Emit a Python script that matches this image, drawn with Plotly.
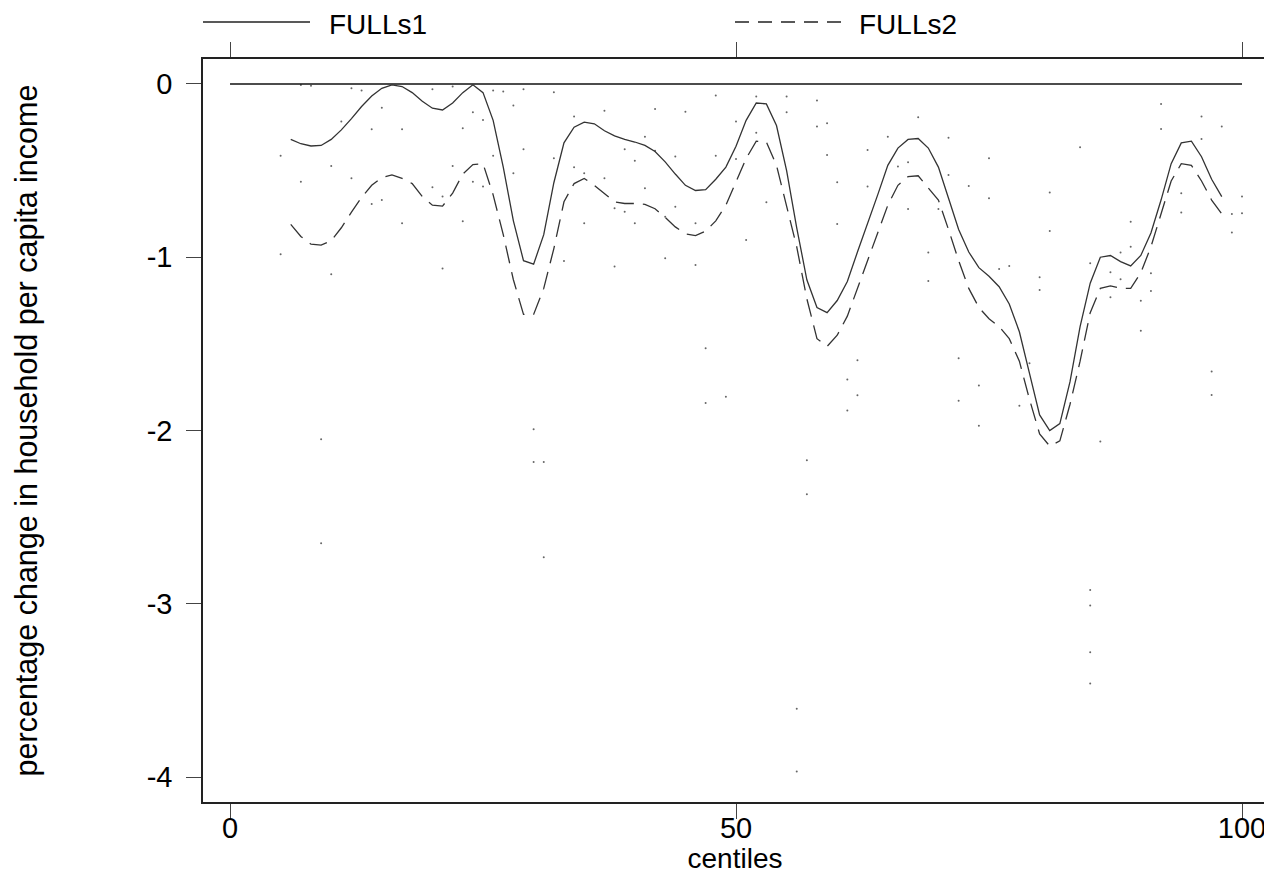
import plotly.graph_objects as go

centiles = list(range(6, 99))

fulls1 = [-0.32, -0.345, -0.358, -0.355, -0.32, -0.265, -0.20, -0.13, -0.07, -0.025,
          -0.005, -0.015, -0.05, -0.10, -0.14, -0.15, -0.11, -0.05, -0.005, -0.05,
          -0.21, -0.48, -0.79, -1.02, -1.04, -0.87, -0.57, -0.34, -0.25, -0.22,
          -0.23, -0.27, -0.30, -0.32, -0.335, -0.355, -0.39, -0.45, -0.52, -0.585,
          -0.615, -0.61, -0.55, -0.48, -0.36, -0.21, -0.11, -0.115, -0.24, -0.50,
          -0.83, -1.13, -1.29, -1.32, -1.25, -1.14, -0.97, -0.81, -0.64, -0.47,
          -0.37, -0.32, -0.315, -0.37, -0.48, -0.66, -0.84, -0.97, -1.06, -1.11,
          -1.17, -1.27, -1.43, -1.67, -1.91, -2.00, -1.96, -1.72, -1.40, -1.15,
          -1.00, -0.99, -1.025, -1.05, -0.99, -0.86, -0.67, -0.46, -0.34, -0.33,
          -0.42, -0.55, -0.65]

fulls2 = [-0.81, -0.88, -0.925, -0.93, -0.905, -0.83, -0.74, -0.655, -0.585, -0.54,
          -0.525, -0.545, -0.575, -0.65, -0.70, -0.705, -0.63, -0.52, -0.465, -0.46,
          -0.64, -0.87, -1.13, -1.33, -1.33, -1.18, -0.95, -0.68, -0.575, -0.545,
          -0.585, -0.635, -0.68, -0.69, -0.69, -0.695, -0.72, -0.77, -0.825, -0.865,
          -0.875, -0.85, -0.79, -0.70, -0.57, -0.43, -0.33, -0.335, -0.47, -0.70,
          -0.94, -1.24, -1.47, -1.515, -1.45, -1.34, -1.18, -1.03, -0.86, -0.70,
          -0.585, -0.535, -0.53, -0.60, -0.67, -0.84, -1.02, -1.18, -1.29, -1.355,
          -1.40, -1.47, -1.60, -1.82, -2.02, -2.09, -2.06, -1.85, -1.60, -1.32,
          -1.18, -1.165, -1.18, -1.18, -1.09, -0.94, -0.75, -0.56, -0.46, -0.47,
          -0.56, -0.67, -0.75]

zero_x = [0, 100]
zero_y = [0, 0]

dot_x = [5, 5, 7, 8, 7, 10, 10, 11, 12, 12, 13, 14, 14, 15, 15, 17, 17, 20, 20, 21,
         21, 22, 22, 23, 23, 24, 24, 25, 25, 26, 26, 27, 28, 28, 29, 29, 32, 32, 33,
         9, 9, 30, 30, 31, 31,
         34, 34, 35, 35, 37, 37, 38, 38, 39, 39, 40, 40, 41, 41, 42, 42, 43, 43, 44,
         44, 45, 46, 46, 47, 47, 48, 48, 49, 50, 50, 51, 52, 52, 53, 55, 55, 58, 58,
         59, 59, 60, 60, 61, 61, 62, 62, 63, 63, 65, 66, 67, 67, 68, 69, 69, 70, 71,
         71, 73, 75, 75, 72, 72, 74, 74, 76, 77, 78, 79, 80, 80, 81, 81, 84, 85, 86,
         87, 87, 88, 88, 89, 89, 90, 90, 91, 91, 92, 92, 94, 94, 96, 96, 97, 97, 98,
         99, 99, 100, 100, 57, 57, 56, 56, 85, 85, 85, 85]

dot_y = [-0.414, -0.983, -0.006, -0.01, -0.564, -0.473, -1.098, -0.217, -0.544, -0.025,
         -0.038, -0.262, -0.693, -0.670, -0.137, -0.262, -0.804, -0.596, -0.031, -0.650,
         -1.065, -0.015, -0.473, -0.256, -0.792, -0.164, -0.564, -0.208, -0.592, -0.038,
         -0.414, -0.044, -0.125, -0.515, -0.031, -0.377, -0.048, -0.429, -1.022,
         -2.05, -2.65, -1.993, -2.182, -2.182, -2.732,
         -0.188, -0.481, -0.804, -0.515, -0.154, -0.544, -1.054, -0.718, -0.377, -0.737,
         -0.443, -0.804, -0.304, -0.602, -0.144, -0.385, -1.006, -0.766, -0.419, -0.708,
         -0.160, -0.804, -1.045, -1.526, -1.841, -0.067, -0.414, -1.805, -0.217, -0.433,
         -0.900, -0.073, -0.281, -0.683, -0.073, -0.164, -0.096, -0.246, -0.227, -0.410,
         -0.567, -0.808, -1.705, -1.884, -1.595, -1.797, -0.381, -0.592, -0.304, -0.477,
         -0.452, -0.721, -0.192, -0.973, -1.137, -0.721, -0.310, -0.525, -0.589, -0.429,
         -0.660, -1.583, -1.828, -1.741, -1.972, -1.068, -1.050, -1.857, -1.612, -1.116,
         -1.189, -0.627, -0.848, -0.366, -1.035, -2.064, -1.087, -1.231, -0.973, -1.127,
         -0.795, -0.939, -1.251, -1.424, -1.093, -1.195, -0.115, -0.260, -0.631, -0.742,
         -0.188, -0.317, -1.660, -1.795, -0.246, -0.750, -0.858, -0.650, -0.746, -2.172,
         -2.368, -3.606, -3.968, -2.92, -3.01, -3.28, -3.46]

x_ticks = [0, 50, 100]
y_ticks = [0, -1, -2, -3, -4]

FONT = "Liberation Sans, Arial, sans-serif"

fig = go.Figure()
fig.add_trace(go.Scatter(x=dot_x, y=dot_y, mode="markers", name="points",
                         marker=dict(size=2, color="#666666"), showlegend=False,
                         hoverinfo="skip"))
fig.add_trace(go.Scatter(x=zero_x, y=zero_y, mode="lines", name="zero",
                         line=dict(color="#111111", width=1.5), showlegend=False))
fig.add_trace(go.Scatter(x=centiles, y=fulls1, mode="lines", name="FULLs1",
                         line=dict(color="#333333", width=1.3), showlegend=False))
fig.add_trace(go.Scatter(x=centiles, y=fulls2, mode="lines", name="FULLs2",
                         line=dict(color="#333333", width=1.3, dash="18px,9px"),
                         showlegend=False))

# legend drawn above the plot frame (Stata style)
LEG_Y = 1.0498
TXT_Y = 1.0458
fig.add_shape(type="line", xref="paper", yref="paper", x0=0.0, x1=0.1006, y0=LEG_Y, y1=LEG_Y,
              line=dict(color="#222222", width=1.3))
fig.add_shape(type="line", xref="paper", yref="paper", x0=0.5, x1=0.608, y0=LEG_Y, y1=LEG_Y,
              line=dict(color="#222222", width=1.3, dash="14px,9px"))
fig.add_annotation(text="FULLs1", xref="paper", yref="paper", x=0.1175, y=TXT_Y,
                   xanchor="left", yanchor="middle", showarrow=False, borderpad=0,
                   font=dict(family=FONT, size=28, color="black"))
fig.add_annotation(text="FULLs2", xref="paper", yref="paper", x=0.6156, y=TXT_Y,
                   xanchor="left", yanchor="middle", showarrow=False, borderpad=0,
                   font=dict(family=FONT, size=28, color="black"))

# page body has an 8px margin, so the figure is 8px smaller and offset
fig.update_layout(
    width=1264, height=866,
    margin=dict(l=195, r=5, t=51, b=72),
    paper_bgcolor="white", plot_bgcolor="white",
    font=dict(family=FONT, size=28, color="black"),
    showlegend=False,
)
fig.update_xaxes(
    range=[-2.67, 102.47], tickvals=x_ticks, ticktext=[str(v) for v in x_ticks],
    ticks="outside", ticklen=15, tickwidth=1.2, tickcolor="#444444",
    showline=True, linecolor="#222222", linewidth=1.5, mirror="ticks",
    showgrid=False, zeroline=False, automargin=False,
    ticklabelstandoff=-16,
    title=dict(text="centiles", standoff=0, font=dict(size=28)),
    tickfont=dict(size=29),
)
fig.update_yaxes(
    range=[-4.144, 0.144], tickvals=y_ticks, ticktext=[str(v) for v in y_ticks],
    ticks="outside", ticklen=15, tickwidth=1.2, tickcolor="#444444",
    showline=True, linecolor="#222222", linewidth=1.5, mirror="ticks",
    showgrid=False, zeroline=False, automargin=False,
    ticklabelstandoff=8,
    title=dict(text="percentage change in household per capita income", standoff=100,
               font=dict(size=30.5)),
    tickfont=dict(size=29),
)

fig.write_html("out.html")
